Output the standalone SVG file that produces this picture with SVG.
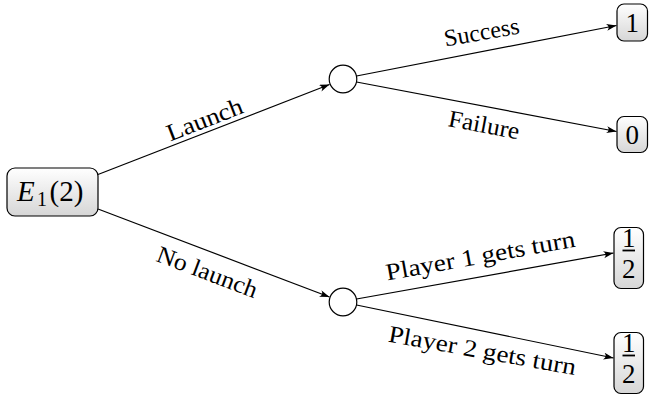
<svg xmlns="http://www.w3.org/2000/svg" width="649" height="405" viewBox="0 0 649 405">
<defs>
<linearGradient id="g" x1="0" y1="0" x2="0" y2="1">
<stop offset="0" stop-color="#ffffff"/>
<stop offset="1" stop-color="#d6d6d6"/>
</linearGradient>
<marker id="ah" markerUnits="userSpaceOnUse" markerWidth="11" markerHeight="8" refX="10" refY="3.5" orient="auto">
<path d="M0,0 Q4,3.5 0,7 L10,3.5 Z" fill="#000"/>
</marker>
</defs>
<style>
.box{fill:url(#g);stroke:#000;stroke-width:1.2}
.chance{fill:#fff;stroke:#000;stroke-width:1.2}
.edge{stroke:#000;stroke-width:1.2;fill:none;marker-end:url(#ah)}
text{font-family:'Liberation Serif','Times New Roman',serif;fill:#000}
.lbl{font-size:24px;text-anchor:middle}
.num{font-size:27px;text-anchor:middle}
</style>
<g id="connectors">
<line class="edge" x1="98" y1="174.5" x2="329.5" y2="84.5"/>
<line class="edge" x1="98" y1="209" x2="329.5" y2="297"/>
<line class="edge" x1="356.5" y1="76" x2="616.5" y2="25.5"/>
<line class="edge" x1="356.5" y1="82" x2="616.5" y2="131.5"/>
<line class="edge" x1="356.5" y1="299" x2="613.5" y2="253"/>
<line class="edge" x1="356.5" y1="305" x2="613.5" y2="358"/>
<text class="lbl" transform="translate(207.5,127) rotate(-21.2)" textLength="80" lengthAdjust="spacingAndGlyphs">Launch</text>
<text class="lbl" transform="translate(204.5,279.5) rotate(20.6)" textLength="106" lengthAdjust="spacingAndGlyphs">No launch</text>
<text class="lbl" transform="translate(483,40) rotate(-10)" textLength="76" lengthAdjust="spacingAndGlyphs">Success</text>
<text class="lbl" transform="translate(482.5,132.7) rotate(10.8)" textLength="72" lengthAdjust="spacingAndGlyphs">Failure</text>
<text class="lbl" transform="translate(481.7,263.5) rotate(-10.2)" textLength="192" lengthAdjust="spacingAndGlyphs">Player 1 gets turn</text>
<text class="lbl" transform="translate(481,358.3) rotate(10.2)" textLength="190" lengthAdjust="spacingAndGlyphs">Player 2 gets turn</text>
</g>
<g id="root">
<rect class="box" x="7" y="168" width="91" height="48" rx="8"/>
<text font-size="29"><tspan x="17" y="201" font-style="italic">E</tspan><tspan x="37" y="205.5" font-size="20">1</tspan><tspan x="49.5" y="201">(2)</tspan></text>
</g>
<g id="chance1"><circle class="chance" cx="343" cy="79" r="13.8"/></g>
<g id="chance2"><circle class="chance" cx="343" cy="302" r="13.8"/></g>
<g id="leaf-success">
<rect class="box" x="617" y="4" width="30.5" height="37" rx="7"/>
<text class="num" x="632.2" y="31.5">1</text>
</g>
<g id="leaf-failure">
<rect class="box" x="617" y="116.5" width="30.5" height="36" rx="7"/>
<text class="num" x="632.2" y="143.5">0</text>
</g>
<g id="leaf-p1">
<rect class="box" x="614" y="227.5" width="29.5" height="61" rx="7"/>
<text class="num" x="628.8" y="247" font-size="25">1</text>
<rect x="622.5" y="249.6" width="12.5" height="1.8" fill="#000"/>
<text class="num" x="628.8" y="277.5" font-size="25">2</text>
</g>
<g id="leaf-p2">
<rect class="box" x="614" y="332.5" width="29.5" height="61" rx="7"/>
<text class="num" x="628.8" y="352" font-size="25">1</text>
<rect x="622.5" y="354.6" width="12.5" height="1.8" fill="#000"/>
<text class="num" x="628.8" y="382.5" font-size="25">2</text>
</g>
</svg>
